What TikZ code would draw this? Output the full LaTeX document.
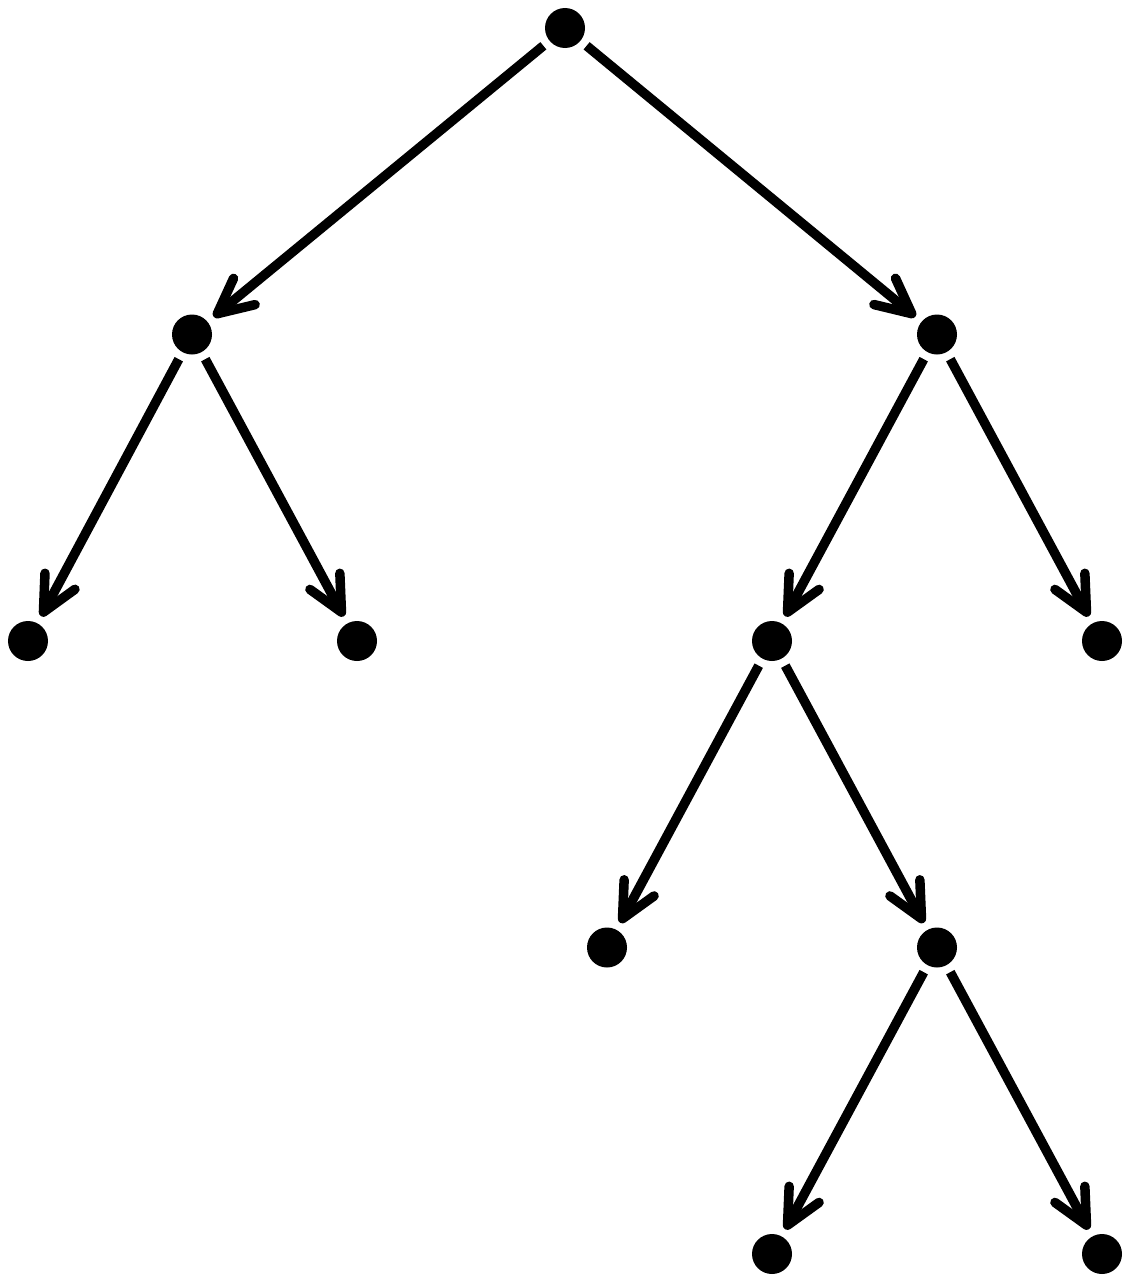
\documentclass[tikz,border=0pt]{standalone}
\usepackage{tikz}
\usetikzlibrary{arrows.meta, positioning}

\begin{document}
\begin{tikzpicture}[
    on grid,
    vertex/.style={circle, fill=black, minimum size=0.8cm, inner sep=0pt, outer sep=0.16cm},
    edge/.style={line width=0.19cm, line cap=butt,
        -{Straight Barb[length=0.7cm, width=0.68cm, line width=0pt 1, round]}}
]
\useasboundingbox (0,0) rectangle (22.6,-25.66);
\node[vertex] (root) at (11.3,-0.56) {};
\node[vertex, below left=6.13cm and 7.46cm of root] (l) {};
\node[vertex, below right=6.13cm and 7.44cm of root] (r) {};
\node[vertex, below left=6.13cm and 3.28cm of l] (ll) {};
\node[vertex, below right=6.13cm and 3.3cm of l] (lr) {};
\node[vertex, below left=6.13cm and 3.3cm of r] (rl) {};
\node[vertex, below right=6.13cm and 3.3cm of r] (rr) {};
\node[vertex, below left=6.13cm and 3.3cm of rl] (rll) {};
\node[vertex, below right=6.13cm and 3.3cm of rl] (rlr) {};
\node[vertex, below left=6.13cm and 3.3cm of rlr] (rlrl) {};
\node[vertex, below right=6.13cm and 3.3cm of rlr] (rlrr) {};
\draw[edge] (root) -- (l);
\draw[edge] (root) -- (r);
\draw[edge] (l) -- (ll);
\draw[edge] (l) -- (lr);
\draw[edge] (r) -- (rl);
\draw[edge] (r) -- (rr);
\draw[edge] (rl) -- (rll);
\draw[edge] (rl) -- (rlr);
\draw[edge] (rlr) -- (rlrl);
\draw[edge] (rlr) -- (rlrr);
\end{tikzpicture}
\end{document}
